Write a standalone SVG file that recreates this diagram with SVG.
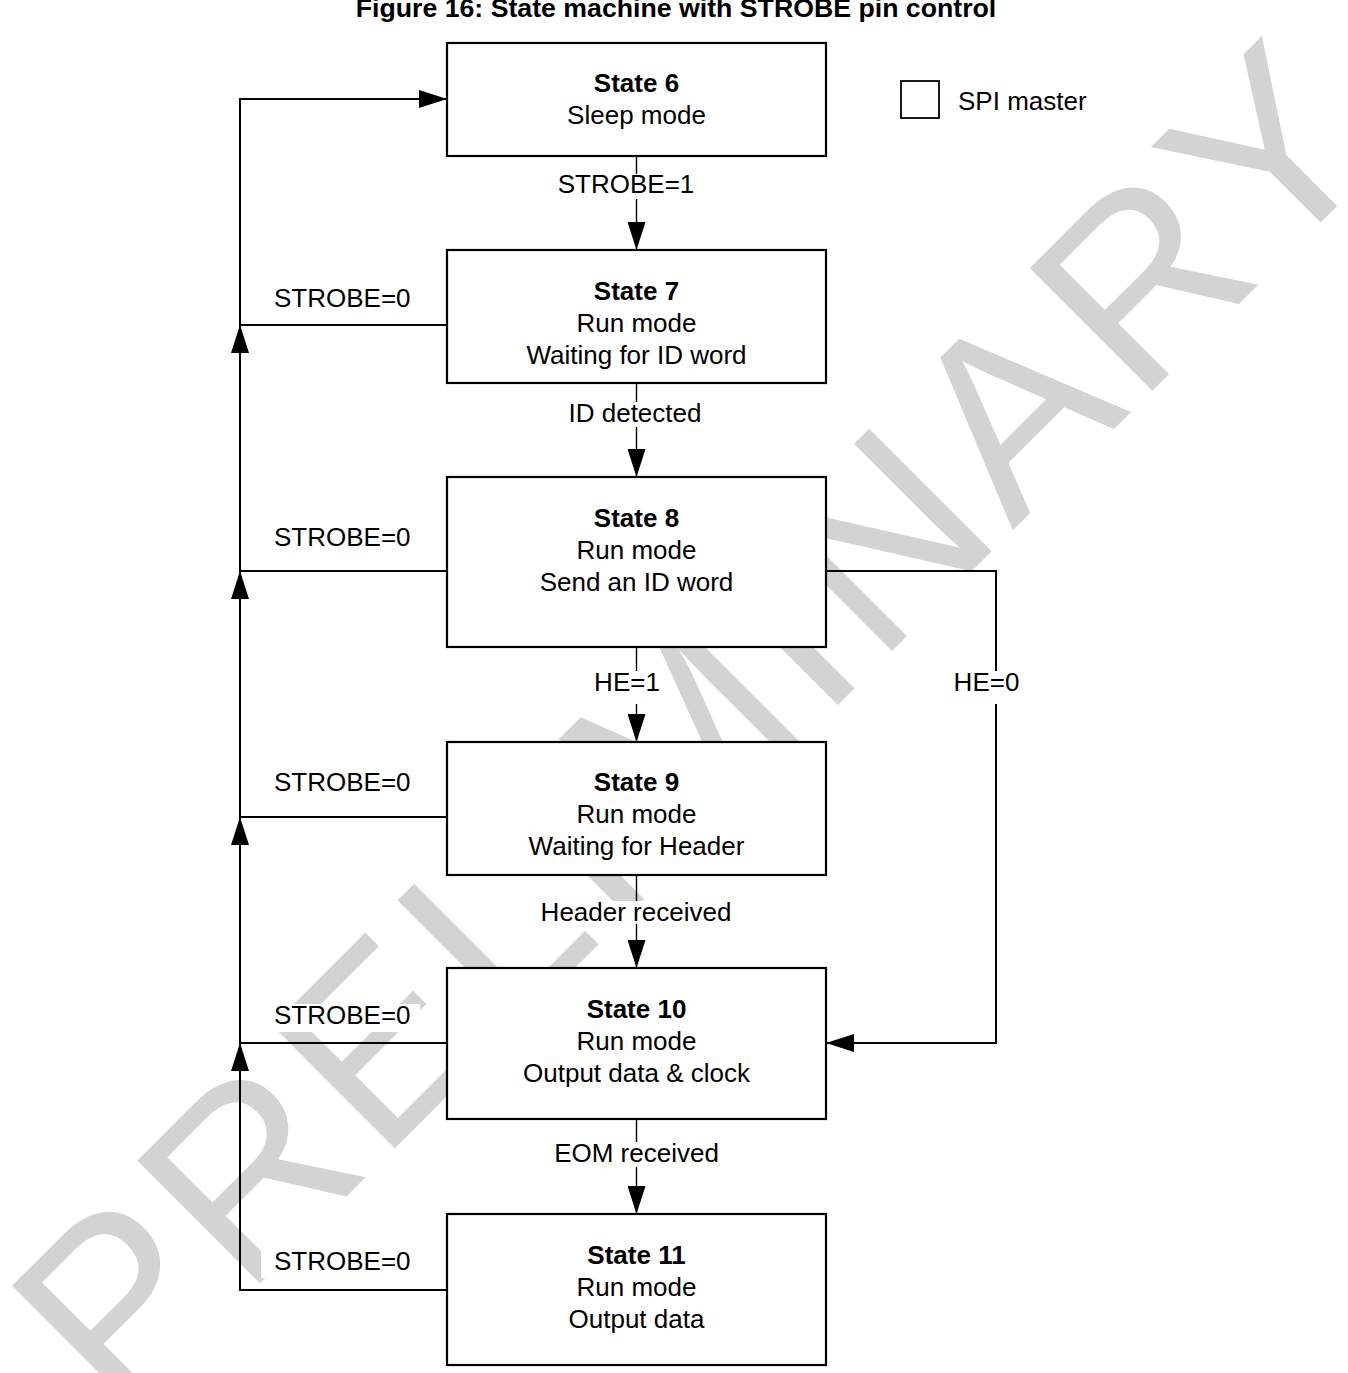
<svg xmlns="http://www.w3.org/2000/svg" width="1348" height="1373" viewBox="0 0 1348 1373">
<style>
.box{fill:#fff;stroke:#000;stroke-width:2.2}
.ln{fill:none;stroke:#000;stroke-width:2}
.thin{fill:none;stroke:#000;stroke-width:1.4}
.t{font-family:"Liberation Sans",Arial,Helvetica,sans-serif;font-size:26px;fill:#000}
.c{text-anchor:middle}
.b{font-weight:bold}
.bg{fill:#fff;stroke:none}
.wm{font-family:"Liberation Sans",Arial,Helvetica,sans-serif;font-size:252px;fill:#d3d3d3;letter-spacing:9px}
</style>
<defs>
<marker id="ah" viewBox="0 0 28 18" refX="28" refY="9" markerWidth="28" markerHeight="18" markerUnits="userSpaceOnUse" orient="auto">
<path d="M0,0 L28,9 L0,18 z" fill="#000"/>
</marker>
</defs>
<rect width="1348" height="1373" fill="#fff"/>
<g id="watermark">
<text class="wm" transform="translate(120,1423) rotate(-45)">PRELIMINARY</text>
</g>
<g id="title">
<text class="t b c" x="676" y="17" style="font-size:26.7px">Figure 16: State machine with STROBE pin control</text>
</g>
<g id="connectors">
<path class="ln" d="M447,1290 H240 V1043" marker-end="url(#ah)"/>
<path class="ln" d="M447,1043 H240 V817" marker-end="url(#ah)"/>
<path class="ln" d="M447,817 H240 V571" marker-end="url(#ah)"/>
<path class="ln" d="M447,571 H240 V325" marker-end="url(#ah)"/>
<path class="ln" d="M447,325 H240 V99 H447" marker-end="url(#ah)"/>
<path class="thin" d="M636.5,156 V250" marker-end="url(#ah)"/>
<path class="thin" d="M636.5,383 V477" marker-end="url(#ah)"/>
<path class="thin" d="M636.5,647 V742" marker-end="url(#ah)"/>
<path class="thin" d="M636.5,875 V968" marker-end="url(#ah)"/>
<path class="thin" d="M636.5,1119 V1214" marker-end="url(#ah)"/>
<path class="ln" d="M826,571 H996 V1043 H826" marker-end="url(#ah)"/>
<rect class="bg" x="553" y="174" width="146" height="25"/>
<rect class="bg" x="563" y="402" width="144" height="25"/>
<rect class="bg" x="590" y="671" width="74" height="33"/>
<rect class="bg" x="949" y="671" width="75" height="33"/>
<rect class="bg" x="535" y="901" width="202" height="23"/>
<rect class="bg" x="549" y="1142" width="175" height="25"/>
<rect class="bg" x="261" y="287" width="159" height="28"/>
<rect class="bg" x="261" y="526" width="159" height="28"/>
<rect class="bg" x="261" y="771" width="159" height="28"/>
<rect class="bg" x="261" y="1004" width="159" height="28"/>
<rect class="bg" x="261" y="1250" width="159" height="28"/>
<text class="t c" x="626" y="193">STROBE=1</text>
<text class="t c" x="635" y="422">ID detected</text>
<text class="t c" x="627" y="691">HE=1</text>
<text class="t c" x="986.5" y="691">HE=0</text>
<text class="t c" x="636" y="921">Header received</text>
<text class="t c" x="636.5" y="1162">EOM received</text>
<text class="t" x="274" y="307">STROBE=0</text>
<text class="t" x="274" y="546">STROBE=0</text>
<text class="t" x="274" y="791">STROBE=0</text>
<text class="t" x="274" y="1024">STROBE=0</text>
<text class="t" x="274" y="1270">STROBE=0</text>
</g>
<g id="state6">
<rect class="box" x="447" y="43" width="379" height="113"/>
<text class="t c b" x="636.5" y="92">State 6</text>
<text class="t c" x="636.5" y="124">Sleep mode</text>
</g>
<g id="state7">
<rect class="box" x="447" y="250" width="379" height="133"/>
<text class="t c b" x="636.5" y="300">State 7</text>
<text class="t c" x="636.5" y="332">Run mode</text>
<text class="t c" x="636.5" y="364">Waiting for ID word</text>
</g>
<g id="state8">
<rect class="box" x="447" y="477" width="379" height="170"/>
<text class="t c b" x="636.5" y="527">State 8</text>
<text class="t c" x="636.5" y="559">Run mode</text>
<text class="t c" x="636.5" y="591">Send an ID word</text>
</g>
<g id="state9">
<rect class="box" x="447" y="742" width="379" height="133"/>
<text class="t c b" x="636.5" y="791">State 9</text>
<text class="t c" x="636.5" y="823">Run mode</text>
<text class="t c" x="636.5" y="855">Waiting for Header</text>
</g>
<g id="state10">
<rect class="box" x="447" y="968" width="379" height="151"/>
<text class="t c b" x="636.5" y="1018">State 10</text>
<text class="t c" x="636.5" y="1050">Run mode</text>
<text class="t c" x="636.5" y="1082">Output data &amp; clock</text>
</g>
<g id="state11">
<rect class="box" x="447" y="1214" width="379" height="151"/>
<text class="t c b" x="636.5" y="1264">State 11</text>
<text class="t c" x="636.5" y="1296">Run mode</text>
<text class="t c" x="636.5" y="1328">Output data</text>
</g>
<g id="legend">
<rect class="box" x="901" y="81" width="38" height="37" style="stroke-width:1.8"/>
<text class="t" x="958" y="110">SPI master</text>
</g>
</svg>
